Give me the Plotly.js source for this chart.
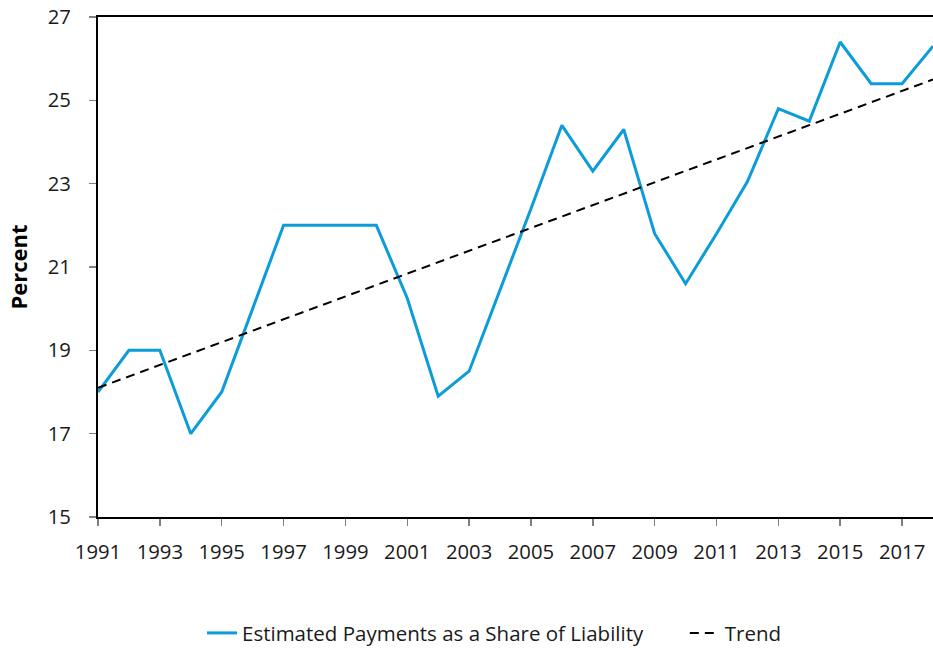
<!DOCTYPE html>
<html>
<head>
<meta charset="utf-8">
<script src="https://cdn.plot.ly/plotly-3.0.1.min.js"></script>
<style>html,body{margin:0;padding:0;background:#fff;}#chart{width:933px;height:650px;}</style>
</head>
<body>
<div id="chart"></div>
<script>
const years = [1991,1992,1993,1994,1995,1996,1997,1998,1999,2000,2001,2002,2003,2004,2005,2006,2007,2008,2009,2010,2011,2012,2013,2014,2015,2016,2017,2018];
const sharePct = [18.0,19.0,19.0,17.0,18.0,20.0,22.0,22.0,22.0,22.0,20.25,17.9,18.5,20.45,22.4,24.4,23.3,24.3,21.8,20.6,21.8,23.05,24.8,24.5,26.4,25.4,25.4,26.3];
const trendYears = [1991, 2018];
const trendPct = [18.1, 25.5];
const tickYears = [1991,1993,1995,1997,1999,2001,2003,2005,2007,2009,2011,2013,2015,2017];
const yTicks = [15,17,19,21,23,25,27];

const fam = '"Open Sans", "Noto Sans", sans-serif';
const tickFont = {family: fam, size: 20.3, color: '#1a1a1a'};
const legFont = {family: fam, size: 20.5, color: '#1a1a1a'};

const traces = [
  {x: years, y: sharePct, type: 'scatter', mode: 'lines', name: 'Estimated Payments as a Share of Liability',
   line: {color: '#0c9cd9', width: 3}, legend: 'legend'},
  {x: trendYears, y: trendPct, type: 'scatter', mode: 'lines', name: 'Trend',
   line: {color: '#000000', width: 2, dash: '9px,6px'}, legend: 'legend2'}
];

const layout = {
  width: 933, height: 650,
  margin: {l: 98, r: 0, t: 17, b: 133},
  paper_bgcolor: '#fff', plot_bgcolor: '#fff',
  font: tickFont,
  showlegend: true,
  legend: {orientation: 'h', xref: 'container', yref: 'container', x: 0.2165, xanchor: 'left', y: 0.026, yanchor: 'middle',
           font: legFont, bgcolor: 'rgba(0,0,0,0)'},
  legend2: {orientation: 'h', xref: 'container', yref: 'container', x: 0.734, xanchor: 'left', y: 0.026, yanchor: 'middle',
           font: legFont, bgcolor: 'rgba(0,0,0,0)'},
  xaxis: {range: [1991, 2018], tickvals: tickYears, ticktext: tickYears.map(String),
          showgrid: false, zeroline: false, showline: true, linecolor: '#000', linewidth: 2,
          mirror: true, ticks: 'outside', ticklen: 7, tickwidth: 1.5, tickcolor: '#808080',
          tickfont: tickFont, ticklabelstandoff: 9},
  yaxis: {range: [15, 27], tickvals: yTicks, ticktext: yTicks.map(String),
          showgrid: false, zeroline: false, showline: true, linecolor: '#000', linewidth: 2,
          ticks: 'outside', ticklen: 7, tickwidth: 1.5, tickcolor: '#808080',
          tickfont: tickFont, ticklabelstandoff: 14,
          title: {text: '\u00A0\u00A0\u00A0\u00A0<b>Percent</b>', font: {family: fam, size: 22, color: '#000'}, standoff: 14}}
};

Plotly.newPlot('chart', traces, layout, {displayModeBar: false, staticPlot: true});
</script>
</body>
</html>
